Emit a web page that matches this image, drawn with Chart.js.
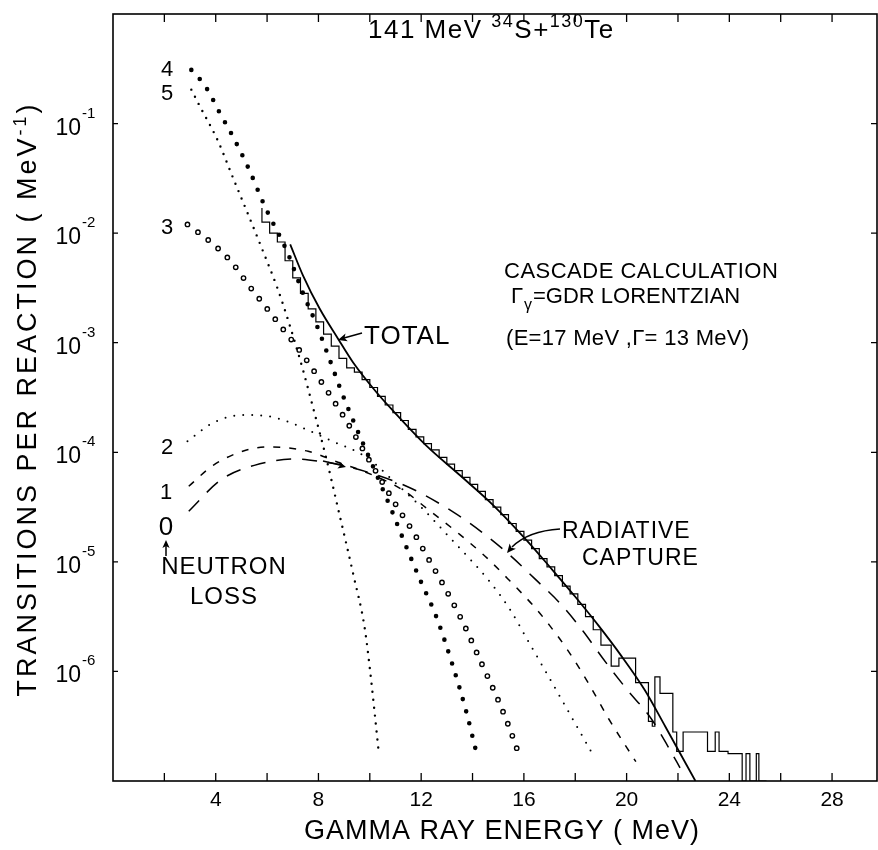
<!DOCTYPE html>
<html>
<head>
<meta charset="utf-8">
<script src="https://cdn.jsdelivr.net/npm/chart.js@4.4.1/dist/chart.umd.min.js"></script>
<style>
  html, body { margin: 0; padding: 0; background: #fff; }
  canvas { display: block; }
</style>
</head>
<body>
<canvas id="chart" width="878" height="850"></canvas>
<script>
// axis ticks
const xMinorTicks = [2, 4, 6, 8, 10, 12, 14, 16, 18, 20, 22, 24, 26, 28];
const xTickLabels = [4, 8, 12, 16, 20, 24, 28];
const yTickExps = [-1, -2, -3, -4, -5, -6];

// neutron loss 5 (small dots)
const n5X = [3.05, 3.4, 4.07, 4.7, 5.3, 5.85, 6.4, 6.8, 7.4, 7.8, 8.3, 8.8, 9.35, 9.8, 10.0, 10.17, 10.35];
const n5Y = [0.204, 0.141, 0.0708, 0.0309, 0.0141, 6.76e-3, 3.16e-3, 1.66e-3, 5.62e-4, 2.51e-4, 8.9e-5, 2.82e-5, 7.8e-6, 2.5e-6, 1.07e-6, 4.6e-7, 1.8e-7];

// neutron loss 4 (big filled dots)
const n4X = [3.05, 3.4, 3.7, 4.15, 4.65, 5.3, 5.9, 6.8, 7.4, 7.9, 8.4, 8.9, 9.5, 10.2, 10.85, 11.4, 11.97, 12.57, 13.21, 13.77, 14.14];
const n4Y = [0.309, 0.251, 0.2, 0.126, 0.0776, 0.038, 0.0178, 6.6e-3, 2.82e-3, 1.51e-3, 7.41e-4, 3.55e-4, 1.62e-4, 6.76e-5, 2.95e-5, 1.41e-5, 6.76e-6, 3.24e-6, 1.17e-6, 4.17e-7, 1.86e-7];

// neutron loss 3 (open circles)
const n3X = [2.9, 3.8, 4.6, 5.3, 5.9, 6.6, 7.3, 7.95, 9.0, 10.0, 11.15, 11.75, 12.3, 12.84, 13.62, 14.32, 15.04, 15.46, 15.84];
const n3Y = [0.012, 8.3e-3, 5.5e-3, 3.31e-3, 2.19e-3, 1.35e-3, 8.3e-4, 5.0e-4, 2.09e-4, 8.3e-5, 2.95e-5, 1.78e-5, 1.05e-5, 6.3e-6, 2.82e-6, 1.23e-6, 5.2e-7, 2.95e-7, 1.66e-7];

// neutron loss 2 (fine dots)
const n2X = [2.9, 3.9, 5.1, 6.0, 6.8, 7.7, 8.45, 9.9, 11.0, 12.0, 13.0, 14.0, 14.67, 15.42, 16.16, 16.9, 17.81, 18.71];
const n2Y = [1.26e-4, 1.86e-4, 2.19e-4, 2.14e-4, 1.91e-4, 1.55e-4, 1.29e-4, 8.9e-5, 5.25e-5, 3.16e-5, 1.78e-5, 1.0e-5, 6.6e-6, 3.8e-6, 1.9e-6, 9.5e-7, 4.0e-7, 1.7e-7];

// neutron loss 1 (short dashes)
const n1X = [2.95, 3.9, 5.2, 6.1, 7.6, 8.95, 9.7, 11.3, 12.2, 13.5, 14.5, 15.35, 16.4, 17.0, 17.75, 18.5, 19.3, 20.36];
const n1Y = [4.9e-5, 7.6e-5, 1.05e-4, 1.12e-4, 1.02e-4, 7.8e-5, 6.8e-5, 4.5e-5, 3.1e-5, 1.78e-5, 1.12e-5, 7.1e-6, 3.9e-6, 2.63e-6, 1.51e-6, 7.9e-7, 3.7e-7, 1.5e-7];

// neutron loss 0 = radiative capture (long dashes)
const n0X = [2.95, 4.2, 5.5, 7.1, 8.3, 8.95, 11.43, 13.3, 14.53, 15.55, 16.4, 17.4, 18.3, 19.1, 20.0, 20.96, 21.7, 22.08];
const n0Y = [2.9e-5, 5.6e-5, 7.6e-5, 8.7e-5, 8.1e-5, 7.6e-5, 4.9e-5, 2.8e-5, 1.74e-5, 1.1e-5, 7.1e-6, 4.2e-6, 2.34e-6, 1.29e-6, 6.9e-7, 3.7e-7, 1.9e-7, 1.32e-7];

// total (solid)
const totX = [6.9, 7.4, 8.05, 8.75, 9.35, 10.25, 10.9, 12.2, 13.5, 14.8, 16.1, 17.1, 18.0, 18.9, 19.8, 20.7, 21.5, 22.68];
const totY = [7.9e-3, 4.1e-3, 2.04e-3, 1.1e-3, 6.6e-4, 3.55e-4, 2.4e-4, 1.15e-4, 6.2e-5, 3.3e-5, 1.58e-5, 8.5e-6, 4.8e-6, 2.63e-6, 1.38e-6, 6.8e-7, 3.16e-7, 1.0e-7];

// measured spectrum (histogram, bin left edges, last entry closes the final bin)
const dataX = [5.8, 6.1, 6.4, 6.7, 7.0, 7.3, 7.6, 7.9, 8.2, 8.5, 8.8, 9.1, 9.4, 9.7, 10.0, 10.3, 10.6, 10.9, 11.2, 11.5,
  11.8, 12.1, 12.4, 12.7, 13.0, 13.3, 13.6, 13.9, 14.2, 14.5, 14.8, 15.1, 15.4, 15.7, 16.0, 16.3, 16.6, 16.9, 17.2, 17.5,
  17.8, 18.1, 18.4, 18.7, 19.0, 19.4, 19.7, 20.35, 20.85, 21.0, 21.1, 21.3, 21.8, 21.95, 22.2, 23.15, 23.45, 23.6, 23.95, 24.5,
  24.65, 24.8, 25.05, 25.15, 25.45];
const dataY = [0.017, 0.0126, 0.01, 8.3e-3, 5.6e-3, 3.9e-3, 2.82e-3, 2.04e-3, 1.55e-3, 1.2e-3, 9.3e-4, 7.2e-4, 5.9e-4, 5.4e-4, 4.6e-4, 3.9e-4, 3.24e-4, 2.7e-4, 2.3e-4, 1.95e-4,
  1.62e-4, 1.38e-4, 1.2e-4, 1.05e-4, 9.0e-5, 7.8e-5, 6.8e-5, 5.9e-5, 5.1e-5, 4.4e-5, 3.7e-5, 3.16e-5, 2.7e-5, 2.24e-5, 1.9e-5, 1.58e-5, 1.32e-5, 1.07e-5, 9.0e-6, 7.5e-6,
  6.0e-6, 5.1e-6, 4.1e-6, 3.16e-6, 2.4e-6, 1.74e-6, 1.12e-6, 1.32e-6, 7.9e-7, 3.5e-7, 3.16e-7, 8.9e-7, 6.3e-7, 2.8e-7, 1.86e-7, 2.8e-7, 1.86e-7, 2.8e-7, 1.86e-7, 1.78e-7,
  1.0e-7, 1.78e-7, 1.0e-7, 1.78e-7, 1.0e-7];

const FONT = '"Liberation Sans", Arial, sans-serif';

function toPts(xs, ys) {
  return xs.map((x, i) => ({ x: x, y: ys[i] }));
}

function curve(xs, ys, style) {
  return Object.assign({
    data: toPts(xs, ys),
    borderColor: '#000',
    pointRadius: 0,
    fill: false,
    cubicInterpolationMode: 'monotone',
    order: 2
  }, style);
}

function arrowHead(ctx, x, y, angle, size) {
  ctx.save();
  ctx.translate(x, y);
  ctx.rotate(angle);
  ctx.beginPath();
  ctx.moveTo(0, 0);
  ctx.lineTo(-size, -size * 0.45);
  ctx.lineTo(-size * 0.75, 0);
  ctx.lineTo(-size, size * 0.45);
  ctx.closePath();
  ctx.fill();
  ctx.restore();
}

function text(ctx, s, x, y, size, align, spacing) {
  ctx.font = size + 'px ' + FONT;
  ctx.textAlign = align || 'left';
  ctx.letterSpacing = (spacing || 0) + 'px';
  ctx.fillText(s, x, y);
  ctx.letterSpacing = '0px';
}

const decor = {
  id: 'decor',
  afterDraw(chart) {
    const ctx = chart.ctx;
    const a = chart.chartArea;
    const xs = chart.scales.x;
    const ys = chart.scales.y;
    ctx.save();
    ctx.strokeStyle = '#000';
    ctx.fillStyle = '#000';
    ctx.lineWidth = 1.6;
    ctx.strokeRect(a.left, a.top, a.right - a.left, a.bottom - a.top);

    // ticks pointing inward
    ctx.lineWidth = 1.3;
    ctx.beginPath();
    xMinorTicks.forEach(v => {
      const px = xs.getPixelForValue(v);
      ctx.moveTo(px, a.bottom); ctx.lineTo(px, a.bottom - 8);
      ctx.moveTo(px, a.top); ctx.lineTo(px, a.top + 8);
    });
    yTickExps.forEach(e => {
      const py = ys.getPixelForValue(Math.pow(10, e));
      ctx.moveTo(a.left, py); ctx.lineTo(a.left + 5, py);
      ctx.moveTo(a.right, py); ctx.lineTo(a.right - 6, py);
    });
    ctx.stroke();

    ctx.textBaseline = 'alphabetic';
    xTickLabels.forEach(v => {
      text(ctx, String(v), xs.getPixelForValue(v), 806, 21, 'center');
    });
    yTickExps.forEach(e => {
      const py = ys.getPixelForValue(Math.pow(10, e));
      text(ctx, '10', 81, py + 11, 23, 'right');
      text(ctx, String(e), 82, py - 6, 15, 'left');
    });

    // axis titles
    text(ctx, 'GAMMA RAY ENERGY ( MeV)', 502, 839, 27, 'center', 1);
    ctx.save();
    ctx.translate(36, 399);
    ctx.rotate(-Math.PI / 2);
    ctx.letterSpacing = '3px';
    ctx.font = '27px ' + FONT;
    const t1 = 'TRANSITIONS PER REACTION ( MeV';
    const w1 = ctx.measureText(t1).width;
    ctx.font = '18px ' + FONT;
    const w2 = ctx.measureText('-1').width;
    ctx.font = '27px ' + FONT;
    const w3 = ctx.measureText(')').width;
    let sx = -(w1 + w2 + w3) / 2;
    ctx.textAlign = 'left';
    ctx.fillText(t1, sx, 0); sx += w1;
    ctx.font = '18px ' + FONT;
    ctx.fillText('-1', sx, -10); sx += w2;
    ctx.font = '27px ' + FONT;
    ctx.fillText(')', sx, 0);
    ctx.restore();

    // title
    let tx = 368;
    const parts = [['141 MeV ', 26, 0], ['34', 18, -11], ['S+', 26, 0], ['130', 18, -11], ['Te', 26, 0]];
    ctx.letterSpacing = '1.5px';
    parts.forEach(p => {
      ctx.font = p[1] + 'px ' + FONT;
      ctx.textAlign = 'left';
      ctx.fillText(p[0], tx, 38 + p[2]);
      tx += ctx.measureText(p[0]).width;
    });
    ctx.letterSpacing = '0px';

    // curve numbers
    text(ctx, '4', 167, 76, 22, 'center');
    text(ctx, '5', 167, 100, 22, 'center');
    text(ctx, '3', 167, 234, 22, 'center');
    text(ctx, '2', 167, 454, 22, 'center');
    text(ctx, '1', 166, 499, 22, 'center');
    text(ctx, '0', 166, 535, 26, 'center');
    ctx.lineWidth = 1.5;
    ctx.beginPath(); ctx.moveTo(166, 556); ctx.lineTo(166, 545); ctx.stroke();
    arrowHead(ctx, 166, 540, -Math.PI / 2, 8);
    text(ctx, 'NEUTRON', 224, 574, 24, 'center', 1);
    text(ctx, 'LOSS', 224, 604, 24, 'center', 1);

    // TOTAL
    text(ctx, 'TOTAL', 364, 344, 26, 'left', 1);
    ctx.beginPath(); ctx.moveTo(362, 333); ctx.lineTo(344, 338); ctx.stroke();
    arrowHead(ctx, 338, 340, Math.atan2(7, -24), 9);

    // small arrow on the 4-curve
    ctx.beginPath(); ctx.moveTo(323, 461); ctx.lineTo(340, 465); ctx.stroke();
    arrowHead(ctx, 346, 467, Math.atan2(6, 23), 8);

    // calculation note
    text(ctx, 'CASCADE CALCULATION', 504, 278, 22, 'left', 0.5);
    ctx.font = '22px ' + FONT;
    ctx.textAlign = 'left';
    ctx.fillText('\u0393', 511, 303);
    ctx.font = '16px ' + FONT;
    ctx.fillText('\u03b3', 524, 310);
    ctx.font = '22px ' + FONT;
    ctx.fillText('=GDR LORENTZIAN', 533, 303);
    text(ctx, '(E=17 MeV ,\u0393= 13 MeV)', 506, 345, 22, 'left', 0.3);

    // radiative capture
    text(ctx, 'RADIATIVE', 562, 538, 23, 'left', 1);
    text(ctx, 'CAPTURE', 582, 565, 23, 'left', 1);
    ctx.beginPath();
    ctx.moveTo(560, 529);
    ctx.quadraticCurveTo(528, 531, 512, 547);
    ctx.stroke();
    arrowHead(ctx, 507, 553, Math.atan2(6, -5), 9);
    ctx.restore();
  }
};

new Chart(document.getElementById('chart'), {
  type: 'line',
  data: {
    datasets: [
      curve(n3X, n3Y, { borderColor: '#fff', borderWidth: 3, borderDash: [0, 13], borderCapStyle: 'round', order: 0 }),
      curve(n3X, n3Y, { borderWidth: 5.8, borderDash: [0, 13], borderCapStyle: 'round', order: 1 }),
      curve(n4X, n4Y, { borderWidth: 4.6, borderDash: [0, 12.5], borderCapStyle: 'round' }),
      curve(n5X, n5Y, { borderWidth: 2.4, borderDash: [0, 8], borderCapStyle: 'round' }),
      curve(n2X, n2Y, { borderWidth: 2, borderDash: [0, 9], borderCapStyle: 'round' }),
      curve(n1X, n1Y, { borderWidth: 1.5, borderDash: [7, 9] }),
      curve(n0X, n0Y, { borderWidth: 1.5, borderDash: [15, 11] }),
      curve(totX, totY, { borderWidth: 1.8 }),
      {
        data: toPts(dataX, dataY),
        borderColor: '#000',
        borderWidth: 1.2,
        pointRadius: 0,
        fill: false,
        stepped: 'after',
        order: 2
      }
    ]
  },
  options: {
    responsive: false,
    animation: false,
    devicePixelRatio: 1,
    layout: { padding: { left: 113, top: 14, right: 1, bottom: 69 } },
    plugins: { legend: { display: false }, tooltip: { enabled: false } },
    scales: {
      x: { type: 'linear', min: 0, max: 29.75, display: false },
      y: { type: 'logarithmic', min: 1e-7, max: 1, display: false }
    }
  },
  plugins: [decor]
});
</script>
</body>
</html>
